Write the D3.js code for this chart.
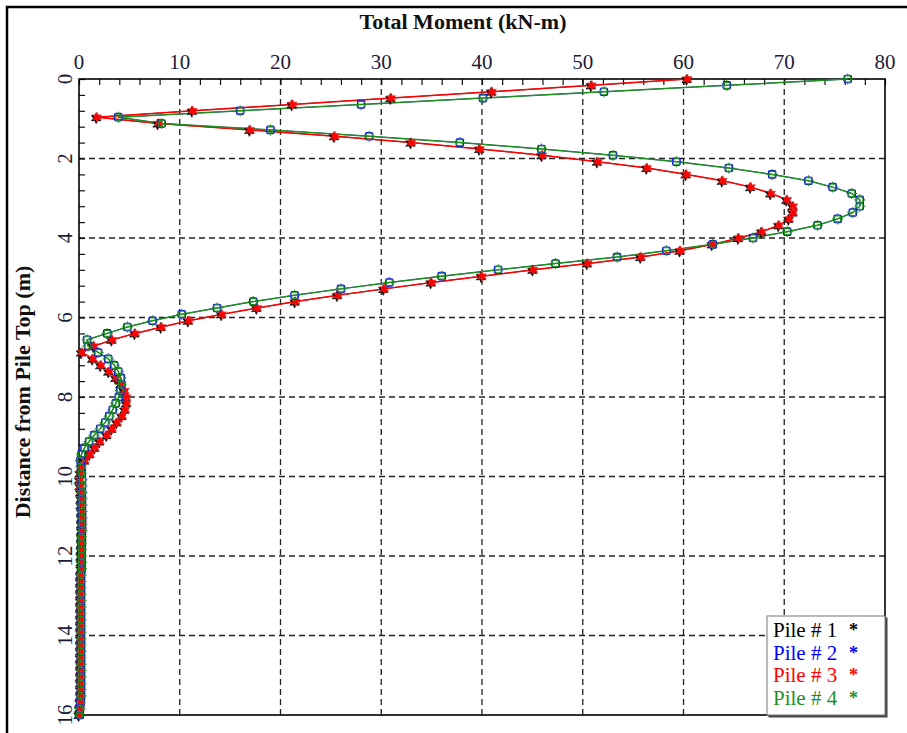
<!DOCTYPE html>
<html>
<head>
<meta charset="utf-8">
<script src="https://cdn.jsdelivr.net/npm/d3@7"></script>
<style>
  html, body { margin: 0; padding: 0; background: #fff; }
  svg { display: block; font-family: "Liberation Serif", "Times New Roman", serif; }
</style>
</head>
<body>
<svg id="chart" width="907" height="733"></svg>
<script>
// depth of each output node along the pile (m)
const depths = [0, 0.16, 0.32, 0.48, 0.64, 0.8, 0.96, 1.12, 1.28, 1.44,
  1.6, 1.76, 1.92, 2.08, 2.24, 2.4, 2.56, 2.72, 2.88, 3.04,
  3.2, 3.36, 3.52, 3.68, 3.84, 4, 4.16, 4.32, 4.48, 4.64,
  4.8, 4.96, 5.12, 5.28, 5.44, 5.6, 5.76, 5.92, 6.08, 6.24,
  6.4, 6.56, 6.72, 6.88, 7.04, 7.2, 7.36, 7.52, 7.68, 7.84,
  8, 8.16, 8.32, 8.48, 8.64, 8.8, 8.96, 9.12, 9.28, 9.44,
  9.6, 9.76, 9.92, 10.08, 10.24, 10.4, 10.56, 10.72, 10.88, 11.04,
  11.2, 11.36, 11.52, 11.68, 11.84, 12, 12.16, 12.32, 12.48, 12.64,
  12.8, 12.96, 13.12, 13.28, 13.44, 13.6, 13.76, 13.92, 14.08, 14.24,
  14.4, 14.56, 14.72, 14.88, 15.04, 15.2, 15.36, 15.52, 15.68, 15.84,
  16];

// total moment (kN-m)
const pile3Moment = [60.4, 50.9, 41.0, 31.0, 21.2, 11.3, 1.8, 7.9, 17.0, 25.4,
  33.0, 39.8, 46.0, 51.5, 56.4, 60.3, 63.9, 66.7, 68.7, 70.3,
  70.9, 70.9, 70.5, 69.5, 67.8, 65.5, 62.9, 59.7, 55.8, 50.5,
  45.1, 40.0, 35.0, 30.3, 25.7, 21.5, 17.7, 14.2, 10.9, 8.2,
  5.6, 3.3, 1.5, 0.3, 1.4, 2.2, 3.0, 3.7, 4.2, 4.55,
  4.7, 4.75, 4.6, 4.3, 3.8, 3.3, 2.8, 2.1, 1.6, 1.1,
  0.6, 0.3, 0.15, 0.1, 0.15, 0.2, 0.25, 0.25, 0.3, 0.3,
  0.3, 0.3, 0.3, 0.3, 0.25, 0.25, 0.25, 0.25, 0.2, 0.2,
  0.2, 0.2, 0.2, 0.2, 0.2, 0.2, 0.2, 0.2, 0.2, 0.2,
  0.2, 0.2, 0.2, 0.2, 0.2, 0.2, 0.2, 0.2, 0.15, 0.1,
  0.05];

const pile4Moment = [76.3, 64.3, 52.1, 40.1, 28.0, 16.0, 3.9, 8.2, 19.0, 28.8,
  37.8, 45.9, 53.0, 59.3, 64.5, 68.8, 72.4, 74.8, 76.7, 77.5,
  77.5, 76.8, 75.3, 73.3, 70.3, 66.9, 62.9, 58.3, 53.4, 47.3,
  41.6, 36.0, 30.8, 26.0, 21.4, 17.3, 13.7, 10.2, 7.3, 4.8,
  2.8, 0.8, 0.9, 1.9, 2.9, 3.5, 3.9, 4.15, 4.2, 4.1,
  3.95, 3.65, 3.35, 3.0, 2.6, 2.1, 1.5, 1.0, 0.55, 0.25,
  0.15, 0.2, 0.25, 0.3, 0.3, 0.3, 0.3, 0.3, 0.3, 0.3,
  0.3, 0.3, 0.25, 0.25, 0.25, 0.25, 0.25, 0.25, 0.2, 0.2,
  0.2, 0.2, 0.2, 0.2, 0.2, 0.2, 0.2, 0.2, 0.2, 0.2,
  0.2, 0.2, 0.2, 0.2, 0.2, 0.2, 0.2, 0.2, 0.15, 0.1,
  0.05];

// piles 1 and 2 lie exactly under piles 3 and 4 in the picture
const pile1Moment = pile3Moment.slice();
const pile2Moment = pile4Moment.slice();

const xTicks = [0, 10, 20, 30, 40, 50, 60, 70, 80];
const yTicks = [0, 2, 4, 6, 8, 10, 12, 14, 16];
const legendLabels = ['Pile # 1', 'Pile # 2', 'Pile # 3', 'Pile # 4'];

const MARGINS = { top: 79, left: 79, right: 22, bottom: 18 };
const W = 907, H = 733;

const svg = d3.select('#chart');

const x = d3.scaleLinear().domain([0, 80]).range([MARGINS.left, W - MARGINS.right]);
const y = d3.scaleLinear().domain([0, 16]).range([MARGINS.top, H - MARGINS.bottom]);

// outer frame (open on right/bottom, like the cropped window)
svg.append('path')
  .attr('d', `M7,${H + 5} V7 H${W + 5}`)
  .attr('fill', 'none').attr('stroke', '#000').attr('stroke-width', 2.5);

// titles
svg.append('text')
  .attr('x', 463).attr('y', 29)
  .attr('text-anchor', 'middle')
  .attr('font-weight', 'bold').attr('font-size', 22)
  .attr('fill', '#111')
  .text('Total Moment (kN-m)');

svg.append('text')
  .attr('transform', `translate(30, 392) rotate(-90)`)
  .attr('text-anchor', 'middle')
  .attr('font-weight', 'bold').attr('font-size', 22)
  .attr('fill', '#111')
  .text('Distance from Pile Top (m)');

// dashed grid
const grid = svg.append('g').attr('class', 'grid')
  .attr('stroke', '#222').attr('stroke-width', 1.3).attr('stroke-dasharray', '6,4');
grid.selectAll('.vx').data(xTicks.slice(1, -1)).join('line')
  .attr('class', 'vx')
  .attr('x1', d => x(d)).attr('x2', d => x(d))
  .attr('y1', y(0)).attr('y2', y(16));
grid.selectAll('.hy').data(yTicks.slice(1, -1)).join('line')
  .attr('class', 'hy')
  .attr('x1', x(0)).attr('x2', x(80))
  .attr('y1', d => y(d)).attr('y2', d => y(d));

// minor ticks, pointing into the plot
const axisX = svg.append('g').attr('transform', `translate(0, ${y(0)})`)
  .call(d3.axisTop(x).tickValues(d3.range(0, 81, 2)).tickSize(-6).tickFormat(''));
const axisY = svg.append('g').attr('transform', `translate(${x(0)}, 0)`)
  .call(d3.axisLeft(y).tickValues(d3.range(0, 16.01, 0.4)).tickSize(-6).tickFormat(''));
[axisX, axisY].forEach(a => {
  a.select('.domain').remove();
  a.selectAll('line').attr('stroke', '#111').attr('stroke-width', 1.2);
});

// tick labels
svg.append('g').selectAll('text').data(xTicks).join('text')
  .attr('x', d => x(d)).attr('y', 69)
  .attr('text-anchor', 'middle').attr('font-size', 21).attr('fill', '#1c1c3a')
  .text(d => d);
svg.append('g').selectAll('text').data(yTicks).join('text')
  .attr('transform', d => `translate(72, ${y(d)}) rotate(-90)`)
  .attr('text-anchor', 'middle').attr('font-size', 21).attr('fill', '#1c1c3a')
  .text(d => d);

// plot frame
svg.append('rect')
  .attr('x', x(0)).attr('y', y(0))
  .attr('width', x(80) - x(0)).attr('height', y(16) - y(0))
  .attr('fill', 'none').attr('stroke', '#000').attr('stroke-width', 1.6);

// series
const series = [
  { name: legendLabels[0], values: pile1Moment, color: '#000000', marker: 'star' },
  { name: legendLabels[1], values: pile2Moment, color: '#0000ff', marker: 'square' },
  { name: legendLabels[2], values: pile3Moment, color: '#ff0000', marker: 'star' },
  { name: legendLabels[3], values: pile4Moment, color: '#1f8f1f', marker: 'square' }
];

const line = d3.line().x(d => x(d[1])).y(d => y(d[0]));

const lines = svg.append('g').attr('class', 'lines');
series.forEach((s, i) => {
  lines.append('path')
    .datum(depths.map((dp, k) => [dp, s.values[k]]))
    .attr('d', line)
    .attr('fill', 'none')
    .attr('stroke', s.color)
    .attr('stroke-width', i < 2 ? 0.8 : 1.5);
});

function starPath(r) {
  const pts = d3.range(12).map(k => {
    const a = k * Math.PI / 6;
    const rr = k % 2 === 0 ? r : r * 0.5;
    return [rr * Math.sin(a), -rr * Math.cos(a)];
  });
  return 'M' + pts.map(p => p.join(',')).join('L') + 'Z';
}

const marks = svg.append('g').attr('class', 'markers');
const drawOrder = [series[0], series[2], series[1], series[3]];
drawOrder.forEach(s => {
  const g = marks.append('g');
  const pts = depths.map((dp, i) => [dp, s.values[i]]);
  if (s.marker === 'star') {
    const black = s.color === '#000000';
    g.selectAll('path').data(pts).join('path')
      .attr('transform', d => `translate(${x(d[1]) + (black ? -1 : 0)}, ${y(d[0]) + (black ? 1 : 0)})`)
      .attr('d', starPath(black ? 5.5 : 5))
      .attr('fill', s.color)
      .attr('stroke', black ? '#000' : '#ff3030')
      .attr('stroke-width', 0.6);
  } else {
    const blue = s.color === '#0000ff';
    const sz = blue ? 7.5 : 6;
    g.selectAll('rect').data(pts).join('rect')
      .attr('x', d => x(d[1]) - sz / 2).attr('y', d => y(d[0]) - sz / 2)
      .attr('width', sz).attr('height', sz)
      .attr('rx', blue ? 1.5 : 1)
      .attr('fill', 'none')
      .attr('stroke', s.color).attr('stroke-width', 1.1);
    if (!blue) {
      g.selectAll('path').data(pts).join('path')
        .attr('transform', d => `translate(${x(d[1])}, ${y(d[0])})`)
        .attr('d', 'M0,-5.5V-3M0,3V5.5M-5.5,0H-3M3,0H5.5')
        .attr('stroke', s.color).attr('stroke-width', 1.1);
    }
  }
});

// legend
const legend = svg.append('g').attr('transform', 'translate(767, 616)');
legend.append('rect')
  .attr('x', 1.5).attr('y', 1.5).attr('width', 119).attr('height', 100)
  .attr('fill', '#444');
legend.append('rect')
  .attr('x', 0).attr('y', 0).attr('width', 118).attr('height', 99)
  .attr('fill', '#fff').attr('stroke', '#777').attr('stroke-width', 1);
const items = legend.selectAll('.item').data(series).join('g')
  .attr('class', 'item')
  .attr('transform', (d, i) => `translate(6, ${21 + i * 22.5})`);
items.append('text')
  .attr('font-size', 21)
  .attr('fill', d => d.color)
  .text(d => d.name);
items.append('text')
  .attr('x', 76).attr('y', -1)
  .attr('font-size', 18).attr('font-weight', 'bold')
  .attr('fill', d => d.color)
  .text('*');
</script>
</body>
</html>
